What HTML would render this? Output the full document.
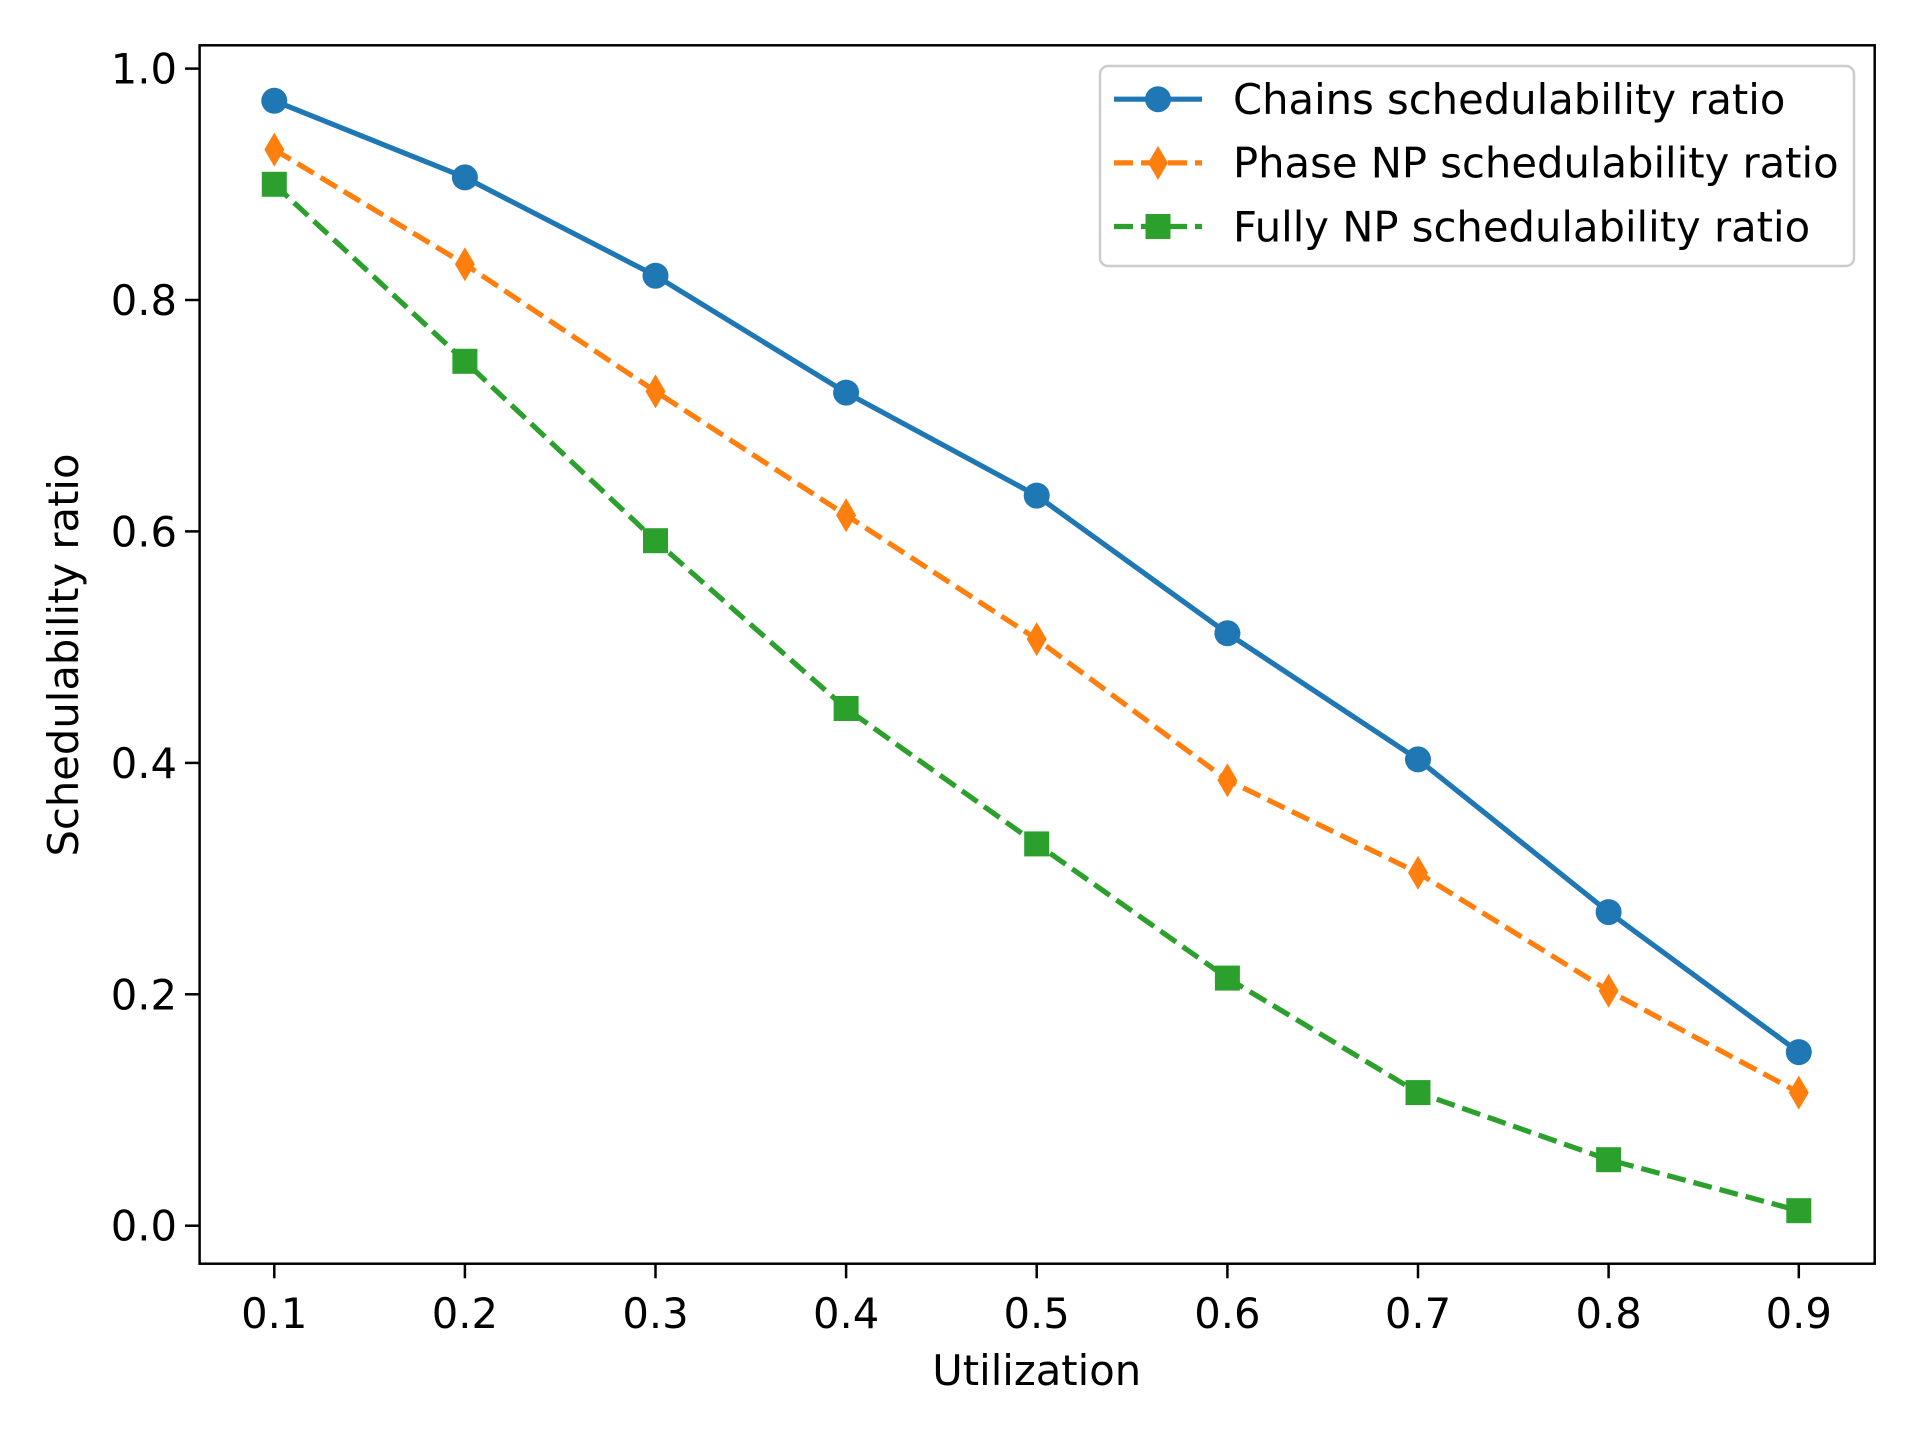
<!DOCTYPE html>
<html><head><meta charset="utf-8"><style>html,body{margin:0;padding:0;background:#fff}svg{display:block}text{font-family:"DejaVu Sans","Liberation Sans",sans-serif;fill:#000}</style></head>
<body>
<svg width="1920" height="1440" viewBox="0 0 1920 1440" xmlns="http://www.w3.org/2000/svg">
<rect x="0" y="0" width="1920" height="1440" fill="#fff"/>
<defs>
<circle id="c" r="13" fill="#1f77b4"/>
<polygon id="d" points="0,-17 10,0 0,17 -10,0" fill="#ff7f0e"/>
<rect id="s" x="-12.5" y="-12.5" width="25" height="25" fill="#2ca02c"/>
</defs>
<polyline fill="none" stroke="#2ca02c" stroke-width="5.2" stroke-dasharray="19,8" points="274.3,184.3 464.9,361.3 655.5,540.7 846.1,708.5 1036.7,843.9 1227.4,978.1 1418,1092.6 1608.6,1159.7 1798.8,1210.7"/>
<polyline fill="none" stroke="#ff7f0e" stroke-width="5.2" stroke-dasharray="19,8" points="274.3,149.6 464.9,264.2 655.5,391.4 846.1,515.2 1036.7,639.1 1227.4,780.2 1418,872.8 1608.6,990.8 1798.8,1092.6"/>
<polyline fill="none" stroke="#1f77b4" stroke-width="5.2" points="274.3,100.8 464.9,177.4 655.5,275.7 846.1,392.6 1036.7,495.6 1227.4,633.3 1418,759.4 1608.6,912.1 1798.8,1052.1"/>
<g>
<use href="#c" x="274.3" y="100.8"/><use href="#c" x="464.9" y="177.4"/><use href="#c" x="655.5" y="275.7"/><use href="#c" x="846.1" y="392.6"/><use href="#c" x="1036.7" y="495.6"/><use href="#c" x="1227.4" y="633.3"/><use href="#c" x="1418" y="759.4"/><use href="#c" x="1608.6" y="912.1"/><use href="#c" x="1798.8" y="1052.1"/>
<use href="#d" x="274.3" y="149.6"/><use href="#d" x="464.9" y="264.2"/><use href="#d" x="655.5" y="391.4"/><use href="#d" x="846.1" y="515.2"/><use href="#d" x="1036.7" y="639.1"/><use href="#d" x="1227.4" y="780.2"/><use href="#d" x="1418" y="872.8"/><use href="#d" x="1608.6" y="990.8"/><use href="#d" x="1798.8" y="1092.6"/>
<use href="#s" x="274.3" y="184.3"/><use href="#s" x="464.9" y="361.3"/><use href="#s" x="655.5" y="540.7"/><use href="#s" x="846.1" y="708.5"/><use href="#s" x="1036.7" y="843.9"/><use href="#s" x="1227.4" y="978.1"/><use href="#s" x="1418" y="1092.6"/><use href="#s" x="1608.6" y="1159.7"/><use href="#s" x="1798.8" y="1210.7"/>
</g>
<rect x="199.6" y="45.3" width="1675.1" height="1218.4" fill="none" stroke="#000" stroke-width="2.5"/>
<g stroke="#000" stroke-width="2.5">
<line x1="274.3" y1="1263.7" x2="274.3" y2="1278.3"/><line x1="464.9" y1="1263.7" x2="464.9" y2="1278.3"/><line x1="655.5" y1="1263.7" x2="655.5" y2="1278.3"/><line x1="846.1" y1="1263.7" x2="846.1" y2="1278.3"/><line x1="1036.7" y1="1263.7" x2="1036.7" y2="1278.3"/><line x1="1227.4" y1="1263.7" x2="1227.4" y2="1278.3"/><line x1="1418" y1="1263.7" x2="1418" y2="1278.3"/><line x1="1608.6" y1="1263.7" x2="1608.6" y2="1278.3"/><line x1="1798.8" y1="1263.7" x2="1798.8" y2="1278.3"/>
<line x1="185" y1="1225.7" x2="199.6" y2="1225.7"/><line x1="185" y1="994.3" x2="199.6" y2="994.3"/><line x1="185" y1="762.9" x2="199.6" y2="762.9"/><line x1="185" y1="531.4" x2="199.6" y2="531.4"/><line x1="185" y1="300" x2="199.6" y2="300"/><line x1="185" y1="68.6" x2="199.6" y2="68.6"/>
</g>
<g font-size="41.7" text-anchor="middle">
<text x="274.3" y="1328">0.1</text><text x="464.9" y="1328">0.2</text><text x="655.5" y="1328">0.3</text><text x="846.1" y="1328">0.4</text><text x="1036.7" y="1328">0.5</text><text x="1227.4" y="1328">0.6</text><text x="1418" y="1328">0.7</text><text x="1608.6" y="1328">0.8</text><text x="1798.8" y="1328">0.9</text>
</g>
<g font-size="41.7" text-anchor="end">
<text x="177" y="1240.7">0.0</text><text x="177" y="1009.3">0.2</text><text x="177" y="777.9">0.4</text><text x="177" y="546.4">0.6</text><text x="177" y="315">0.8</text><text x="177" y="83.6">1.0</text>
</g>
<text x="1036.7" y="1385" font-size="41.7" text-anchor="middle">Utilization</text>
<text transform="translate(78,655) rotate(-90)" font-size="41.7" text-anchor="middle">Schedulability ratio</text>
<rect x="1100" y="66" width="754" height="200" rx="8" fill="#fff" fill-opacity="0.8" stroke="#ccc" stroke-width="2.5"/>
<line x1="1114" y1="99.2" x2="1202" y2="99.2" stroke="#1f77b4" stroke-width="5.2"/>
<use href="#c" x="1158" y="99.2"/>
<line x1="1114" y1="162.9" x2="1202" y2="162.9" stroke="#ff7f0e" stroke-width="5.2" stroke-dasharray="19,8"/>
<use href="#d" x="1158" y="162.9"/>
<line x1="1114" y1="226.5" x2="1202" y2="226.5" stroke="#2ca02c" stroke-width="5.2" stroke-dasharray="19,8"/>
<use href="#s" x="1158" y="226.5"/>
<g font-size="41.7">
<text x="1233" y="114">Chains schedulability ratio</text>
<text x="1233" y="177.7">Phase NP schedulability ratio</text>
<text x="1233" y="241.3">Fully NP schedulability ratio</text>
</g>
</svg>
</body></html>
